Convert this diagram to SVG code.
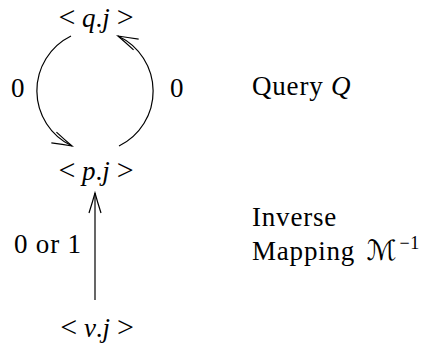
<svg xmlns="http://www.w3.org/2000/svg" width="435" height="350" viewBox="0 0 435 350">
<style>
text { font-family: 'Liberation Serif', 'DejaVu Serif', serif; font-size: 27px; fill: #000; }
.lbl { letter-spacing: 0.8px; }
.it { font-style: italic; }
.rel { font-size: 30px; }
.conn { fill: none; stroke: #000; stroke-width: 1.2; }
</style>
<defs>
<marker id="ah" markerUnits="userSpaceOnUse" markerWidth="30" markerHeight="20" viewBox="-22 -10 26 20" refX="0" refY="0" orient="auto">
<path d="M -20 -6 Q -9 -2.5 0 0 Q -9 2.5 -20 6" fill="none" stroke="#000" stroke-width="1.2"/>
</marker>
</defs>
<rect width="435" height="350" fill="#fff"/>
<g id="connectors">
<path class="conn" d="M 71 36 A 61 61 0 0 0 72 146" marker-end="url(#ah)"/>
<path class="conn" d="M 119 146 A 61 61 0 0 0 118 36" marker-end="url(#ah)"/>
<path class="conn" d="M 95 300 L 95 193" marker-end="url(#ah)"/>
<text class="lbl" x="11" y="97" font-family="Liberation Serif">0</text>
<text class="lbl" x="170" y="97" font-family="Liberation Serif">0</text>
<text class="lbl" x="14" y="253" font-family="Liberation Serif">0 or 1</text>
</g>
<g id="node-q">
<text x="96" y="27" text-anchor="middle" font-family="Liberation Serif"><tspan class="rel">&lt;</tspan> <tspan class="it">q</tspan>.<tspan class="it">j</tspan> <tspan class="rel">&gt;</tspan></text>
</g>
<g id="node-p">
<text x="96" y="180" text-anchor="middle" font-family="Liberation Serif"><tspan class="rel">&lt;</tspan> <tspan class="it">p</tspan>.<tspan class="it">j</tspan> <tspan class="rel">&gt;</tspan></text>
</g>
<g id="node-v">
<text x="97" y="337" text-anchor="middle" font-family="Liberation Serif"><tspan class="rel">&lt;</tspan> <tspan class="it">v</tspan>.<tspan class="it">j</tspan> <tspan class="rel">&gt;</tspan></text>
</g>
<g id="label-query">
<text class="lbl" x="252" y="95" font-family="Liberation Serif">Query <tspan class="it">Q</tspan></text>
</g>
<g id="label-inverse">
<text class="lbl" x="252" y="226" font-family="Liberation Serif">Inverse</text>
<text class="lbl" x="252" y="260" font-family="Liberation Serif">Mapping <tspan font-family="DejaVu Sans" font-size="28" dx="4">ℳ</tspan><tspan font-size="18" dx="2" dy="-11">−1</tspan></text>
</g>
</svg>
